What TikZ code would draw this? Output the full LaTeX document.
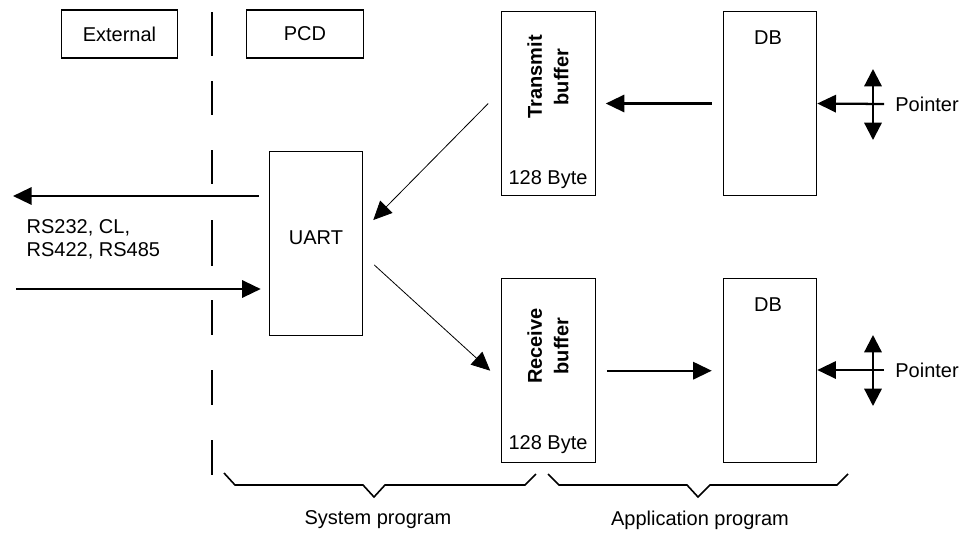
\documentclass[tikz,border=0pt]{standalone}
\usepackage{fontspec}
\setmainfont{Liberation Sans}
\usetikzlibrary{positioning}
\usetikzlibrary{arrows.meta}

\begin{document}
\begin{tikzpicture}[
x=0.75pt, y=-0.75pt,
every node/.style={font=\fontsize{15}{18}\selectfont},
box/.style={draw=black, line width=0.9pt, inner sep=0},
headbox/.style={box, minimum width=87.5pt, minimum height=36pt},
tallbox/.style={box, minimum width=70pt, minimum height=138pt},
boldtext/.style={font=\fontsize{15}{20}\selectfont\bfseries, rotate=90, align=center},
bigarrow/.style={line width=1.7pt, -{Triangle[length=14pt, width=13pt]}},
thinarrow/.style={line width=0.6pt, -{Triangle[length=14pt, width=13pt]}},
separator/.style={line width=2pt},
bracket/.style={line width=1.2pt}
]
\useasboundingbox (0,0) rectangle (968,536);

% headings
\node[headbox] (ext) at (119.5,34) {External};
\node[headbox] (pcd) at (305,34) {PCD};

% boxes
\node[tallbox] (uart) at (316,243.5) {};
\node[tallbox] (tx) at (548.5,103.5) {};
\node[tallbox, right=95.25pt of tx] (db1) {};
\node[tallbox, below=61.5pt of tx] (rx) {};
\node[tallbox, right=95.25pt of rx] (db2) {};

\node (uartlabel) at (316,238) {UART};
\node[boldtext] (txlabel) at (548,77) {Transmit\\buffer};
\node[boldtext] (rxlabel) at (548,346) {Receive\\buffer};
\node (txsize) at (548,180) {128 Byte};
\node (rxsize) at (548,445) {128 Byte};
\node (db1label) at (768,38) {DB};
\node (db2label) at (768,305) {DB};

% separator
\foreach \s/\e in {12/56, 81/115, 150/184, 220/266, 300/335, 370/405, 440/475}
  \draw[separator] (212,\s) -- (212,\e);

% serial line
\coordinate (outend) at (13,196);
\coordinate (inbegin) at (16,289);
\draw[bigarrow, shorten <=7.5pt] (uart.west |- outend) -- (outend);
\draw[bigarrow, shorten >=6pt] (inbegin) -- (uart.west |- inbegin);
\node[align=left, anchor=west, font=\fontsize{15}{17}\selectfont] (lines) at (22,239) {RS232, CL,\\RS422, RS485};

% data flow
\draw[thinarrow] ([xshift=-9.75pt]tx.west) -- ([xshift=7.5pt, yshift=17.6pt]uart.east);
\draw[thinarrow] ([xshift=8.25pt, yshift=-16.1pt]uart.east) -- ([xshift=-8.25pt]rx.west);
\draw[bigarrow, shorten <=8.25pt, shorten >=7.5pt] (db1.west) -- (tx.east);
\draw[bigarrow, shorten <=8.25pt, shorten >=8.25pt] (rx.east) -- (db2.west);

% pointers
\coordinate (p1) at (884,104);
\coordinate (p1up) at (873,69);
\coordinate (p1down) at (873,140);
\coordinate (p2) at (884,370);
\coordinate (p2up) at (873,335);
\coordinate (p2down) at (873,406);
\draw[bigarrow] (p1) -- (db1.east);
\draw[bigarrow, {Triangle[length=13pt, width=13pt]}-{Triangle[length=13pt, width=13pt]}] (p1up) -- (p1down);
\draw[bigarrow] (p2) -- (db2.east |- p2);
\draw[bigarrow, {Triangle[length=13pt, width=13pt]}-{Triangle[length=13pt, width=13pt]}] (p2up) -- (p2down);
\node[right=5pt of p1] (ptr1) {Pointer};
\node[right=5pt of p2] (ptr2) {Pointer};

% program parts
\draw[bracket] (224,473) -- (235,485) -- (363,485) -- (374,497) -- (385,485) -- (525,485) -- (536,474);
\draw[bracket] (548,474) -- (559,485) -- (687,485) -- (698,497) -- (710,485) -- (837,485) -- (848,474);
\node (sys) at (378,520) {System program};
\node (app) at (700,520) {Application program};
\end{tikzpicture}
\end{document}
